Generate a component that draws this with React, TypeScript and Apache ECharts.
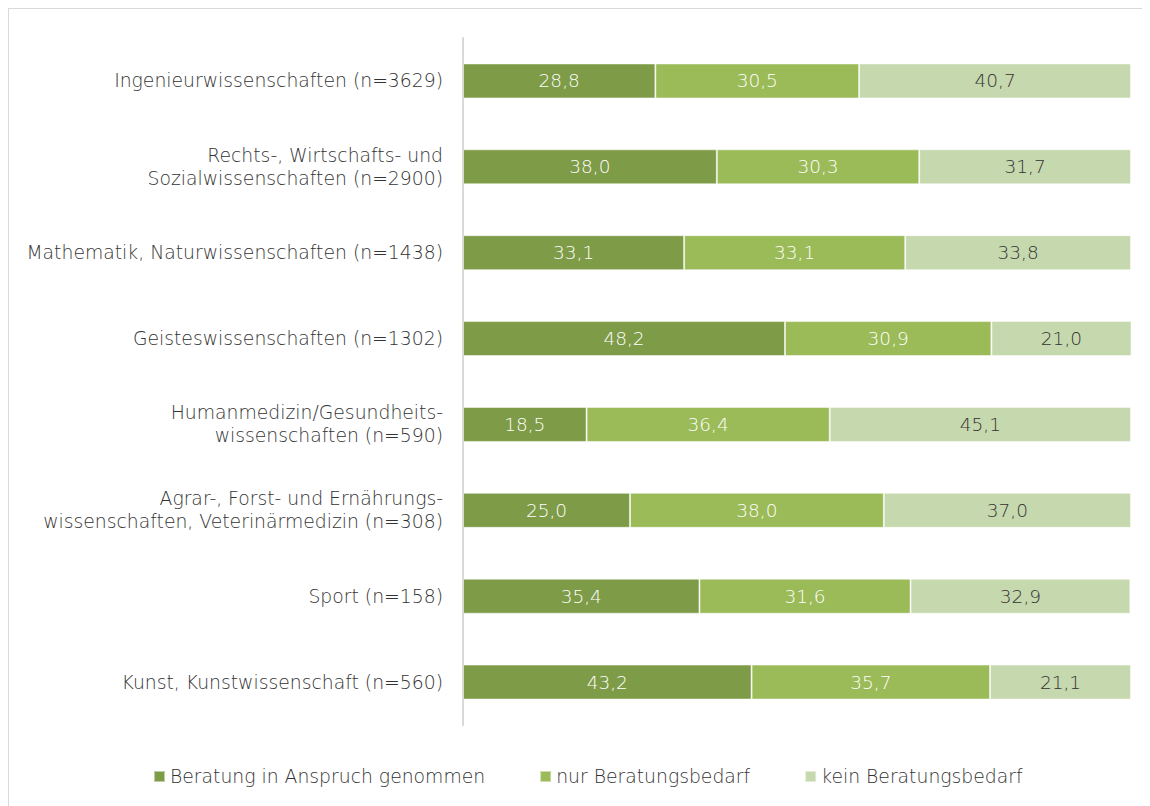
import React, { useEffect, useRef } from "react";
import * as echarts from "echarts";

const categories = [
  "Ingenieurwissenschaften (n=3629)",
  "Rechts-, Wirtschafts- und\nSozialwissenschaften (n=2900)",
  "Mathematik, Naturwissenschaften (n=1438)",
  "Geisteswissenschaften (n=1302)",
  "Humanmedizin/Gesundheits-\nwissenschaften (n=590)",
  "Agrar-, Forst- und Ernährungs-\nwissenschaften, Veterinärmedizin (n=308)",
  "Sport (n=158)",
  "Kunst, Kunstwissenschaft (n=560)",
];

const seriesNames = ["Beratung in Anspruch genommen", "nur Beratungsbedarf", "kein Beratungsbedarf"];
const beratung = [28.8, 38.0, 33.1, 48.2, 18.5, 25.0, 35.4, 43.2];
const nurBedarf = [30.5, 30.3, 33.1, 30.9, 36.4, 38.0, 31.6, 35.7];
const keinBedarf = [40.7, 31.7, 33.8, 21.0, 45.1, 37.0, 32.9, 21.1];

const colors = ["#7e9b47", "#9bbb59", "#c6d8ae"];
const labelColors = ["#ffffff", "#ffffff", "#333333"];
const FONT = "'DejaVu Sans', sans-serif";

export default function App() {
  const ref = useRef<HTMLDivElement>(null);
  useEffect(() => {
    if (!ref.current) return;
    const chart = echarts.init(ref.current, undefined, { renderer: "svg" });
    const data = [beratung, nurBedarf, keinBedarf];
    chart.setOption({
      animation: false,
      textStyle: { fontFamily: FONT },
      grid: { left: 454, right: 19, top: 29, bottom: 81, containLabel: false },
      xAxis: {
        type: "value",
        min: 0,
        max: 100,
        show: false,
      },
      yAxis: {
        type: "category",
        data: categories,
        inverse: true,
        axisLine: { show: true, lineStyle: { color: "#d9d9d9", width: 2 } },
        axisTick: { show: false },
        axisLabel: {
          margin: 20,
          fontSize: 18.8,
          fontWeight: 300,
          lineHeight: 23,
          color: "#333333",
          fontFamily: FONT,
          align: "right",
        },
      },
      legend: {
        top: 753,
        left: 139,
        itemWidth: 11,
        itemHeight: 11,
        itemGap: 54,
        icon: "rect",
        textStyle: { fontSize: 18.8, fontWeight: 300, color: "#333333", fontFamily: FONT },
        data: seriesNames,
      },
      series: seriesNames.map((name, i) => ({
        name,
        type: "bar",
        stack: "total",
        barWidth: 35,
        data: data[i],
        itemStyle: { color: colors[i], borderColor: "rgba(255,255,255,0.5)", borderWidth: 1 },
        label: {
          show: true,
          position: "inside",
          color: labelColors[i],
          fontSize: 18.5,
          fontWeight: 300,
          fontFamily: FONT,
          formatter: (p: any) => p.value.toFixed(1).replace(".", ","),
        },
      })),
    });
    return () => chart.dispose();
  }, []);
  return (
    <div
      style={{
        width: 1142,
        height: 798,
        borderTop: "1px solid #d9d9d9",
        borderLeft: "1px solid #d9d9d9",
        boxSizing: "border-box",
        overflow: "hidden",
      }}
    >
      <div ref={ref} style={{ width: 1141, height: 797 }} />
    </div>
  );
}
